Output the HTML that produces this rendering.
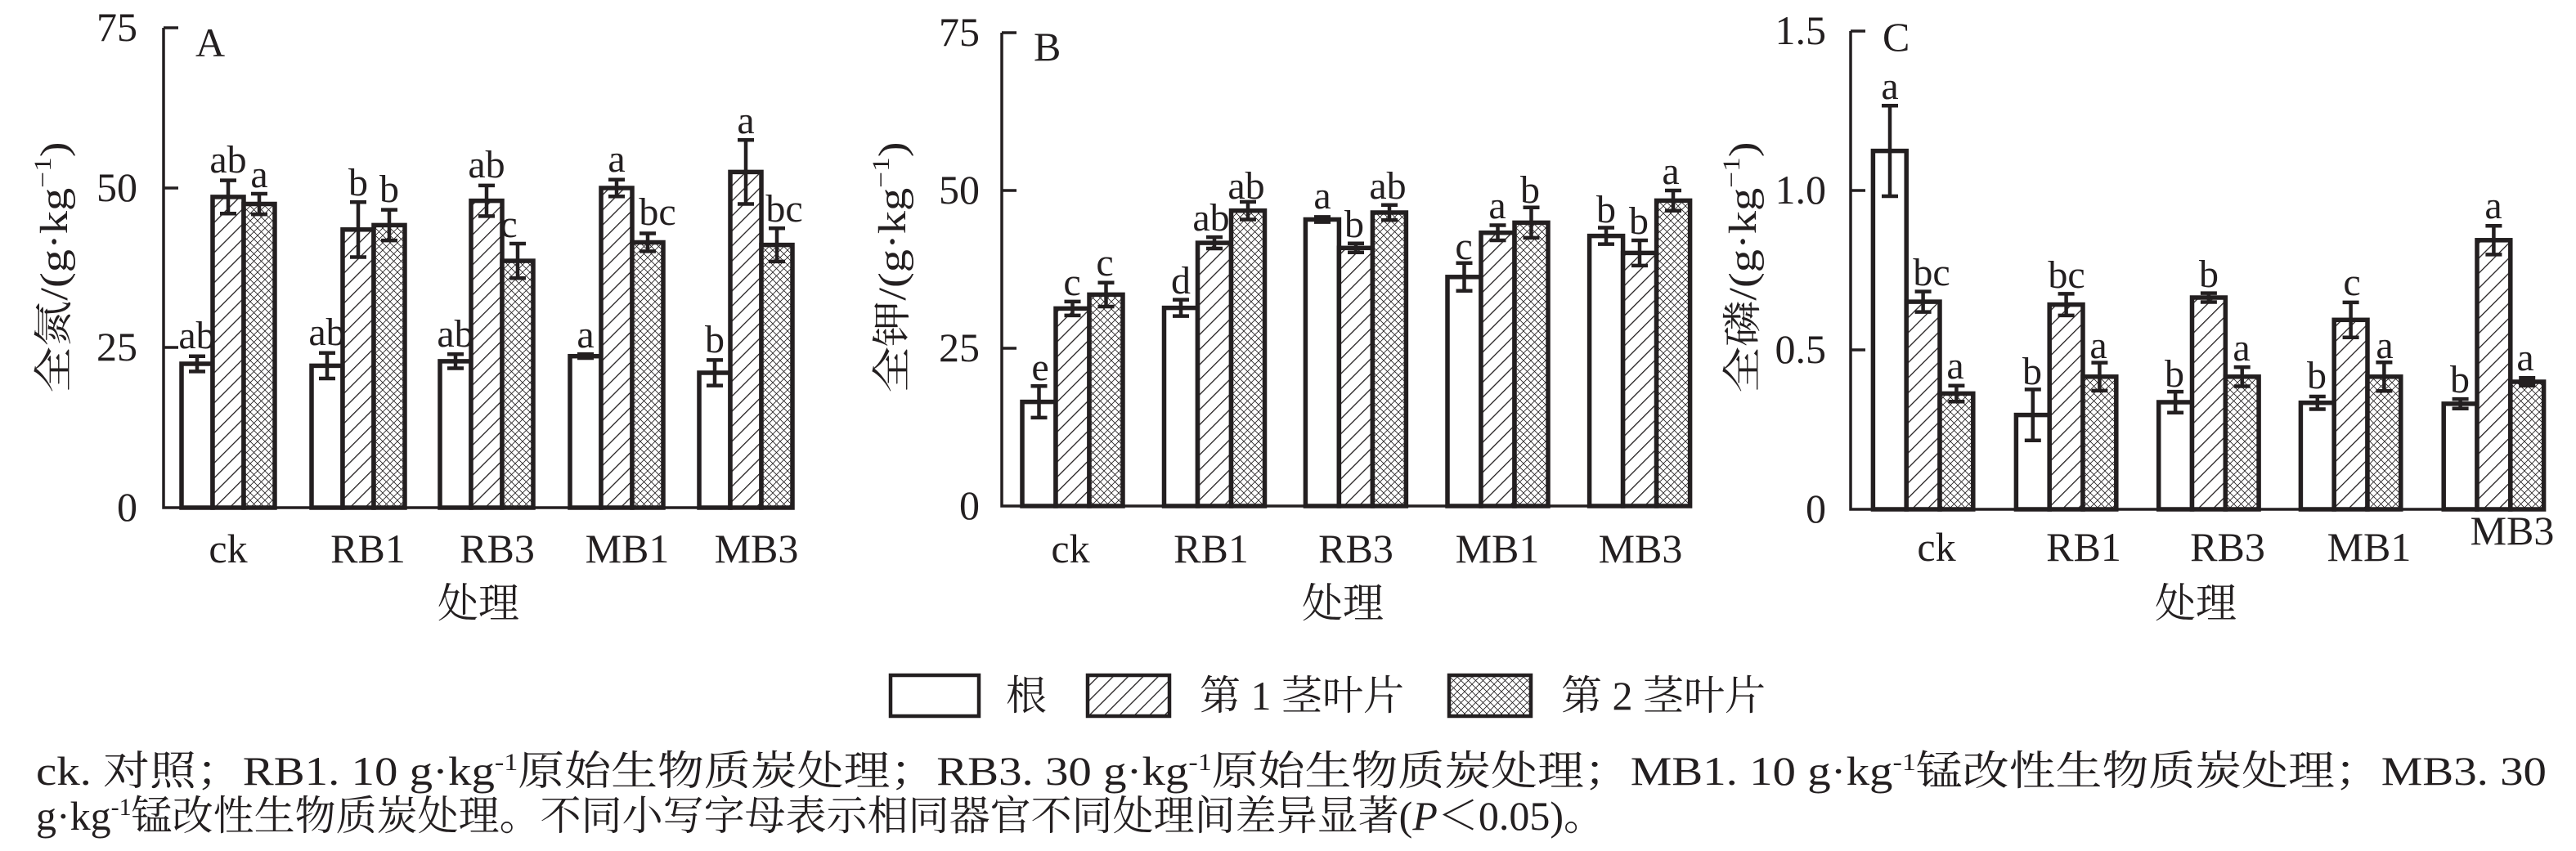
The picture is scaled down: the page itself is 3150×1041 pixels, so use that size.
<!DOCTYPE html>
<html><head><meta charset="utf-8"><style>
html,body{margin:0;padding:0;background:#fff;}
svg{display:block;}
text{font-family:"Liberation Serif","Noto Serif CJK SC","Noto Sans CJK SC",serif;fill:#231f20;}
</style></head><body>
<svg width="3150" height="1041" viewBox="0 0 3150 1041" xmlns="http://www.w3.org/2000/svg">
<defs>
<pattern id="h" patternUnits="userSpaceOnUse" width="13" height="13" patternTransform="rotate(45)">
<rect width="13" height="13" fill="#fff"/><line x1="0" y1="0" x2="0" y2="13" stroke="#231f20" stroke-width="2.6"/></pattern>
<pattern id="x" patternUnits="userSpaceOnUse" width="9" height="9">
<rect width="9" height="9" fill="#fff"/><path d="M0,0L9,9M9,0L0,9" stroke="#231f20" stroke-width="0.8"/></pattern>
</defs>
<g stroke="#231f20" fill="none">
<path d="M200,34V621H969" stroke-width="3.5"/>
<path d="M200,34h18M200,230h18M200,425h18" stroke-width="3.5"/>
<path d="M1225,40V619H2066" stroke-width="3.5"/>
<path d="M1225,40h18M1225,233h18M1225,426h18" stroke-width="3.5"/>
<path d="M2263,38V623H3113" stroke-width="3.5"/>
<path d="M2263,38h18M2263,233h18M2263,428h18" stroke-width="3.5"/>
</g>
<g stroke="#231f20" stroke-width="5.5">
<rect x="222" y="445" width="38" height="176" fill="#fff"/><rect x="260" y="240.9" width="38" height="380.1" fill="url(#h)"/><rect x="298" y="249.5" width="38" height="371.5" fill="url(#x)"/>
<rect x="381" y="447.4" width="38" height="173.6" fill="#fff"/><rect x="419" y="280.8" width="38" height="340.2" fill="url(#h)"/><rect x="457" y="275.4" width="38" height="345.6" fill="url(#x)"/>
<rect x="538" y="441.9" width="38" height="179.1" fill="#fff"/><rect x="576" y="245.6" width="38" height="375.4" fill="url(#h)"/><rect x="614" y="319.1" width="38" height="301.9" fill="url(#x)"/>
<rect x="697" y="435.7" width="38" height="185.3" fill="#fff"/><rect x="735" y="230" width="38" height="391" fill="url(#h)"/><rect x="773" y="296.5" width="38" height="324.5" fill="url(#x)"/>
<rect x="855" y="456" width="38" height="165" fill="#fff"/><rect x="893" y="210.4" width="38" height="410.6" fill="url(#h)"/><rect x="931" y="299.6" width="38" height="321.4" fill="url(#x)"/>
<rect x="1250" y="491.6" width="41" height="127.4" fill="#fff"/><rect x="1291" y="377.4" width="41" height="241.6" fill="url(#h)"/><rect x="1332" y="360.4" width="41" height="258.6" fill="url(#x)"/>
<rect x="1423.5" y="376.6" width="41" height="242.4" fill="#fff"/><rect x="1464.5" y="297.1" width="41" height="321.9" fill="url(#h)"/><rect x="1505.5" y="257.7" width="41" height="361.3" fill="url(#x)"/>
<rect x="1596.4" y="268.5" width="41" height="350.5" fill="#fff"/><rect x="1637.4" y="303.3" width="41" height="315.7" fill="url(#h)"/><rect x="1678.4" y="260" width="41" height="359" fill="url(#x)"/>
<rect x="1770" y="338.8" width="41" height="280.2" fill="#fff"/><rect x="1811" y="284.7" width="41" height="334.3" fill="url(#h)"/><rect x="1852" y="272.4" width="41" height="346.6" fill="url(#x)"/>
<rect x="1943.6" y="288.6" width="41" height="330.4" fill="#fff"/><rect x="1984.6" y="309.4" width="41" height="309.6" fill="url(#h)"/><rect x="2025.6" y="245.4" width="41" height="373.6" fill="url(#x)"/>
<rect x="2290.4" y="184.6" width="40.8" height="438.4" fill="#fff"/><rect x="2331.2" y="369.1" width="40.8" height="253.9" fill="url(#h)"/><rect x="2372" y="481.4" width="40.8" height="141.6" fill="url(#x)"/>
<rect x="2465.4" y="507.6" width="40.8" height="115.4" fill="#fff"/><rect x="2506.2" y="372.6" width="40.8" height="250.4" fill="url(#h)"/><rect x="2547" y="460.8" width="40.8" height="162.2" fill="url(#x)"/>
<rect x="2639.7" y="492" width="40.8" height="131" fill="#fff"/><rect x="2680.5" y="364" width="40.8" height="259" fill="url(#h)"/><rect x="2721.3" y="460.8" width="40.8" height="162.2" fill="url(#x)"/>
<rect x="2813.4" y="492.7" width="40.8" height="130.3" fill="#fff"/><rect x="2854.2" y="391.3" width="40.8" height="231.7" fill="url(#h)"/><rect x="2895" y="460.8" width="40.8" height="162.2" fill="url(#x)"/>
<rect x="2988.2" y="493.9" width="40.8" height="129.1" fill="#fff"/><rect x="3029" y="293.8" width="40.8" height="329.2" fill="url(#h)"/><rect x="3069.8" y="467" width="40.8" height="156" fill="url(#x)"/>
</g>
<g stroke="#231f20" stroke-width="4.5" fill="none">
<path d="M241,435.7V454.4M231,435.7h20M231,454.4h20 M279,220.6V261.3M269,220.6h20M269,261.3h20 M317,237V262.1M307,237h20M307,262.1h20"/>
<path d="M400,431.8V463M390,431.8h20M390,463h20 M438,247.2V314.5M428,247.2h20M428,314.5h20 M476,256.6V294.1M466,256.6h20M466,294.1h20"/>
<path d="M557,433.3V450.5M547,433.3h20M547,450.5h20 M595,226.9V264.4M585,226.9h20M585,264.4h20 M633,298V340.3M623,298h20M623,340.3h20"/>
<path d="M716,433.3V438M706,433.3h20M706,438h20 M754,219.8V240.2M744,219.8h20M744,240.2h20 M792,285.5V307.4M782,285.5h20M782,307.4h20"/>
<path d="M874,440.4V471.6M864,440.4h20M864,471.6h20 M912,171.3V249.5M902,171.3h20M902,249.5h20 M950,279.3V319.9M940,279.3h20M940,319.9h20"/>
<path d="M1270.5,472.3V510.9M1260.5,472.3h20M1260.5,510.9h20 M1311.5,368.9V385.9M1301.5,368.9h20M1301.5,385.9h20 M1352.5,345.7V375M1342.5,345.7h20M1342.5,375h20"/>
<path d="M1444,366.6V386.6M1434,366.6h20M1434,386.6h20 M1485,290.1V304M1475,290.1h20M1475,304h20 M1526,246.9V268.5M1516,246.9h20M1516,268.5h20"/>
<path d="M1617,265.4V271.6M1607,265.4h20M1607,271.6h20 M1658,297.8V308.7M1648,297.8h20M1648,308.7h20 M1699,250.8V269.3M1689,250.8h20M1689,269.3h20"/>
<path d="M1790.5,321.8V355.7M1780.5,321.8h20M1780.5,355.7h20 M1831.5,275.5V294M1821.5,275.5h20M1821.5,294h20 M1872.5,253.8V290.9M1862.5,253.8h20M1862.5,290.9h20"/>
<path d="M1964,278.5V298.6M1954,278.5h20M1954,298.6h20 M2005,294V324.9M1995,294h20M1995,324.9h20 M2046,233V257.7M2036,233h20M2036,257.7h20"/>
<path d="M2311,129.3V240M2301,129.3h20M2301,240h20 M2351.6,356.6V381.6M2341.6,356.6h20M2341.6,381.6h20 M2392.4,471.7V491.2M2382.4,471.7h20M2382.4,491.2h20"/>
<path d="M2485.8,476.4V538.8M2475.8,476.4h20M2475.8,538.8h20 M2526.6,359.4V385.9M2516.6,359.4h20M2516.6,385.9h20 M2567.4,443.6V477.9M2557.4,443.6h20M2557.4,477.9h20"/>
<path d="M2660.1,479.1V504.8M2650.1,479.1h20M2650.1,504.8h20 M2700.9,358.6V369.5M2690.9,358.6h20M2690.9,369.5h20 M2741.7,449.1V472.5M2731.7,449.1h20M2731.7,472.5h20"/>
<path d="M2833.8,485V500.5M2823.8,485h20M2823.8,500.5h20 M2874.6,369.9V412.8M2864.6,369.9h20M2864.6,412.8h20 M2915.4,443.2V478.3M2905.4,443.2h20M2905.4,478.3h20"/>
<path d="M3008.6,488.1V499.8M2998.6,488.1h20M2998.6,499.8h20 M3049.4,276.3V311.4M3039.4,276.3h20M3039.4,311.4h20 M3090.2,462.3V471.7M3080.2,462.3h20M3080.2,471.7h20"/>
</g>
<g font-size="50" text-anchor="end">
<text x="168" y="50">75</text><text x="168" y="246">50</text><text x="168" y="441">25</text><text x="168" y="637">0</text>
<text x="1198" y="56">75</text><text x="1198" y="249">50</text><text x="1198" y="442">25</text><text x="1198" y="635">0</text>
<text x="2233" y="54">1.5</text><text x="2233" y="249">1.0</text><text x="2233" y="444">0.5</text><text x="2233" y="639">0</text>
</g>
<g font-size="50">
<text x="239" y="69">A</text><text x="1264" y="74">B</text><text x="2302" y="62">C</text>
</g>
<g font-size="48" text-anchor="middle">
<text x="241" y="426">ab</text><text x="279" y="211">ab</text><text x="317" y="229">a</text>
<text x="400" y="422">ab</text><text x="438" y="239">b</text><text x="476" y="247">b</text>
<text x="557" y="424">ab</text><text x="595" y="217">ab</text><text x="622" y="290">c</text>
<text x="716" y="425">a</text><text x="754" y="210">a</text><text x="804" y="275">bc</text>
<text x="874" y="431">b</text><text x="912" y="163">a</text><text x="959" y="271">bc</text>
<text x="1272" y="465">e</text><text x="1311" y="361">c</text><text x="1351" y="337">c</text>
<text x="1444" y="359">d</text><text x="1481" y="282">ab</text><text x="1524" y="243">ab</text>
<text x="1617" y="255">a</text><text x="1656" y="290">b</text><text x="1697" y="243">ab</text>
<text x="1790" y="317">c</text><text x="1831" y="267">a</text><text x="1871" y="248">b</text>
<text x="1964" y="272">b</text><text x="2004" y="286">b</text><text x="2043" y="225">a</text>
<text x="2311" y="121">a</text><text x="2362" y="349">bc</text><text x="2391" y="463">a</text>
<text x="2485" y="470">b</text><text x="2527" y="352">bc</text><text x="2566" y="438">a</text>
<text x="2659" y="473">b</text><text x="2701" y="351">b</text><text x="2741" y="441">a</text>
<text x="2833" y="475">b</text><text x="2876" y="361">c</text><text x="2916" y="438">a</text>
<text x="3008" y="480">b</text><text x="3049" y="267">a</text><text x="3088" y="453">a</text>
</g>
<g font-size="50" text-anchor="middle">
<text x="279" y="688">ck</text><text x="450" y="688">RB1</text><text x="608" y="688">RB3</text><text x="767" y="688">MB1</text><text x="925" y="688">MB3</text>
<text x="1309" y="688">ck</text><text x="1481" y="688">RB1</text><text x="1658" y="688">RB3</text><text x="1831" y="688">MB1</text><text x="2006" y="688">MB3</text>
<text x="2368" y="686">ck</text><text x="2548" y="686">RB1</text><text x="2724" y="686">RB3</text><text x="2897" y="686">MB1</text><text x="3072" y="666">MB3</text>
<text x="585" y="755">处理</text><text x="1642" y="755">处理</text><text x="2685" y="755">处理</text>
</g>
<g font-size="48" text-anchor="middle">
<text transform="translate(82,327) rotate(-90)" textLength="307" lengthAdjust="spacingAndGlyphs">全氮/(g·kg<tspan font-size="30" dy="-20">−1</tspan><tspan dy="20">)</tspan></text>
<text transform="translate(1107,327) rotate(-90)" textLength="307" lengthAdjust="spacingAndGlyphs">全钾/(g·kg<tspan font-size="30" dy="-20">−1</tspan><tspan dy="20">)</tspan></text>
<text transform="translate(2147,327) rotate(-90)" textLength="307" lengthAdjust="spacingAndGlyphs">全磷/(g·kg<tspan font-size="30" dy="-20">−1</tspan><tspan dy="20">)</tspan></text>
</g>
<g stroke="#231f20" stroke-width="4.5">
<rect x="1089" y="826" width="108" height="50" fill="#fff"/>
<rect x="1330" y="826" width="100" height="50" fill="url(#h)"/>
<rect x="1772" y="826" width="100" height="50" fill="url(#x)"/>
</g>
<g font-size="50">
<text x="1230" y="868">根</text>
<text x="1467" y="868">第 1 茎叶片</text>
<text x="1909" y="868">第 2 茎叶片</text>
</g>
<g font-size="50">
<text x="44" y="960" textLength="3070" lengthAdjust="spacingAndGlyphs">ck. 对照；RB1. 10 g·kg<tspan font-size="30" dy="-18">-1</tspan><tspan dy="18">原始生物质炭处理；RB3. 30 g·kg</tspan><tspan font-size="30" dy="-18">-1</tspan><tspan dy="18">原始生物质炭处理；MB1. 10 g·kg</tspan><tspan font-size="30" dy="-18">-1</tspan><tspan dy="18">锰改性生物质炭处理；MB3. 30</tspan></text>
<text x="44" y="1015">g·kg<tspan font-size="30" dy="-18">-1</tspan><tspan dy="18">锰改性生物质炭处理。不同小写字母表示相同器官不同处理间差异显著(</tspan><tspan font-style="italic">P</tspan><tspan>＜0.05)。</tspan></text>
</g>
</svg>
</body></html>
